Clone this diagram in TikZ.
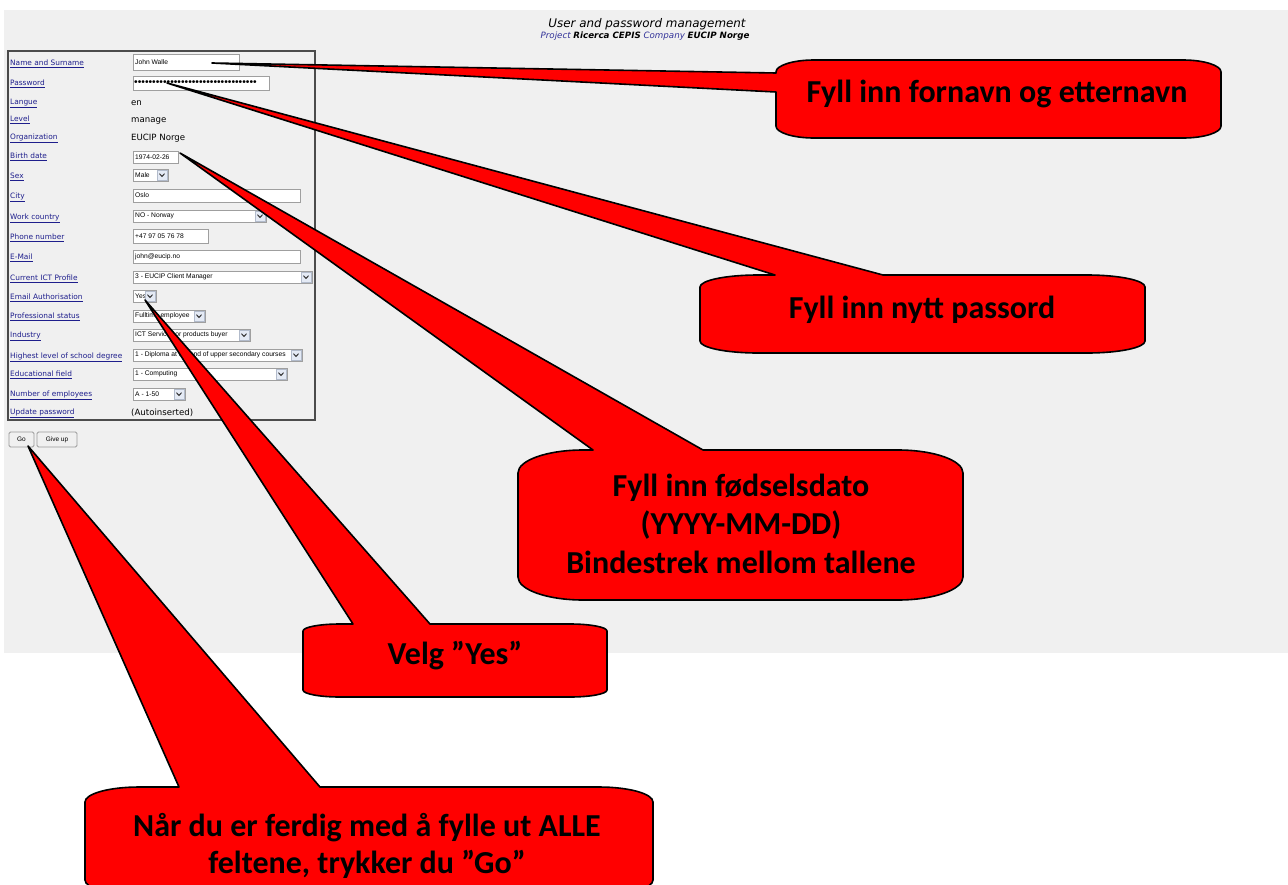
\documentclass[tikz,border=0pt]{standalone}
\usepackage{fontspec}
\setmainfont{DejaVu Sans}
\newfontfamily\vd{DejaVu Sans}
\newfontfamily\ar{Liberation Sans}
\newfontfamily\cb{Carlito}
\definecolor{bg}{RGB}{240,240,240}
\definecolor{linkblue}{RGB}{30,30,140}
\definecolor{hdrblue}{RGB}{51,51,153}
\definecolor{cred}{RGB}{255,0,0}
\definecolor{btnblue}{RGB}{200,212,235}
\tikzset{
  lbl/.style={anchor=base west, inner sep=0, text=linkblue, font=\vd\fontsize{7.4}{8}\selectfont},
  val/.style={anchor=base west, inner sep=0, font=\vd\fontsize{8.6}{10}\selectfont},
  intext/.style={anchor=west, inner sep=0, font=\ar\fontsize{6.7}{7}\selectfont},
  inbox/.style={draw=gray!75, fill=white, line width=0.8pt},
  selbtn/.style={draw=btnblue!70!gray, fill=btnblue!50!white, line width=0.6pt},
  chev/.style={draw=black!80, line width=1pt},
  btn/.style={draw=gray!80, fill=gray!12, rounded corners=1.5pt, line width=0.8pt, inner sep=0,
     minimum height=15pt, font=\ar\fontsize{6.5}{7}\selectfont},
  calloutshape/.style={fill=cred, draw=black, line width=1.6pt, line join=round},
  ctext/.style={anchor=base, inner sep=0, font=\cb\bfseries\fontsize{32}{38}\selectfont},
}
% name x1 y1 x2 y2 text
\newcommand\mkinput[6]{%
  \draw[inbox] (#2,#3) rectangle (#4,#5);
  \node[intext] (#1) at ({#2+2},{(#3+#5)/2}) {#6};}
\newcommand\mkselect[6]{%
  \mkinput{#1}{#2}{#3}{#4}{#5}{#6}
  \draw[selbtn] ({#4-11},{#3+1}) rectangle ({#4-1},{#5-1});
  \draw[chev] ({#4-8.5},{(#3+#5)/2-1.3}) -- ({#4-6},{(#3+#5)/2+1.4}) -- ({#4-3.5},{(#3+#5)/2-1.3});}
% x1 y1 x2 y2 rx ry baseleft baseright tip
\newcommand\callouttop[9]{%
  \filldraw[calloutshape] (#7,#2) -- (#9) -- (#8,#2) -- ({#3-#5},#2)
    .. controls ({#3-0.448*#5},#2) and (#3,{#2+0.448*#6}) .. (#3,{#2+#6})
    -- (#3,{#4-#6})
    .. controls (#3,{#4-0.448*#6}) and ({#3-0.448*#5},#4) .. ({#3-#5},#4)
    -- ({#1+#5},#4)
    .. controls ({#1+0.448*#5},#4) and (#1,{#4-0.448*#6}) .. (#1,{#4-#6})
    -- (#1,{#2+#6})
    .. controls (#1,{#2+0.448*#6}) and ({#1+0.448*#5},#2) .. ({#1+#5},#2)
    -- cycle;}
\begin{document}
\begin{tikzpicture}[x=1pt,y=-1pt]
\useasboundingbox (0,0) rectangle (1288,884);
\clip (0,0) rectangle (1288,884);
\fill[white] (0,0) rectangle (1288,884);
\fill[bg] (4,10) rectangle (1288,653);

% header
\node[anchor=base, inner sep=0, font=\vd\itshape\fontsize{11.9}{13}\selectfont] (title) at (647,27) {User and password management};
\node[anchor=base, inner sep=0, font=\vd\itshape\fontsize{8.7}{10}\selectfont] (subtitle) at (645,38)
  {\textcolor{hdrblue}{Project} \textbf{Ricerca CEPIS} \textcolor{hdrblue}{Company} \textbf{EUCIP Norge}};

% form frame
\draw[draw=gray!60!black, line width=1.1pt, fill=bg] (8,51) rectangle (315,420);

% labels
\node[lbl] (l1) at (10,65.6) {\underline{Name and Surname}};
\node[lbl] (l2) at (10,85.6) {\underline{Password}};
\node[lbl] (l3) at (10,104.6) {\underline{Langue}};
\node[lbl] (l4) at (10,121.6) {\underline{Level}};
\node[lbl] (l5) at (10,139.6) {\underline{Organization}};
\node[lbl] (l6) at (10,158.6) {\underline{Birth date}};
\node[lbl] (l7) at (10,178.6) {\underline{Sex}};
\node[lbl] (l8) at (10,198.6) {\underline{City}};
\node[lbl] (l9) at (10,219.6) {\underline{Work country}};
\node[lbl] (l10) at (10,239.6) {\underline{Phone number}};
\node[lbl] (l11) at (10,259.6) {\underline{E-Mail}};
\node[lbl] (l12) at (10,280.6) {\underline{Current ICT Profile}};
\node[lbl] (l13) at (10,299.6) {\underline{Email Authorisation}};
\node[lbl] (l14) at (10,318.6) {\underline{Professional status}};
\node[lbl] (l15) at (10,337.6) {\underline{Industry}};
\node[lbl] (l16) at (10,358.6) {\underline{Highest level of school degree}};
\node[lbl] (l17) at (10,376.6) {\underline{Educational field}};
\node[lbl] (l18) at (10,396.6) {\underline{Number of employees}};
\node[lbl] (l19) at (10,414.6) {\underline{Update password}};

% values
\mkinput{fname}{133}{54}{239}{70}{John Walle}
\draw[inbox] (133,76) rectangle (269,90);
\node[anchor=west, inner sep=0, font=\ar\fontsize{10.3}{11}\selectfont] (pw) at (134,83.5) {••••••••••••••••••••••••••••••••••};
\node[val] (lang) at (131,105.5) {en};
\node[val] (level) at (131,122.5) {manage};
\node[val] (org) at (131,140.5) {EUCIP Norge};
\mkinput{bdate}{133}{151}{178}{163}{1974-02-26}
\mkselect{sex}{133}{169}{168}{181}{Male}
\mkinput{city}{133}{189}{300}{202}{Oslo}
\mkselect{country}{133}{210}{266}{222}{NO - Norway}
\mkinput{phone}{133}{229}{208}{243}{+47 97 05 76 78}
\mkinput{email}{133}{250}{300}{263}{john@eucip.no}
\mkselect{ict}{133}{271}{312}{283}{3 - EUCIP Client Manager}
\mkselect{auth}{133}{290}{156}{302}{Yes}
\mkselect{prof}{133}{310}{205}{322}{Fulltime employee}
\mkselect{ind}{133}{329}{250}{341}{ICT Services or products buyer}
\mkselect{school}{133}{349}{302}{361}{1 - Diploma at the end of upper secondary courses}
\mkselect{edu}{133}{368}{287}{380}{1 - Computing}
\mkselect{emp}{133}{388}{185}{400}{A - 1-50}
\node[val] (upd) at (131,415) {(Autoinserted)};

% buttons
\node[btn, minimum width=25pt] (go) at (21.5,439.5) {Go};
\node[btn, minimum width=40pt] (giveup) at (57,439.5) {Give up};

% pointer tips
\coordinate (t1) at (212,63);
\coordinate (t2) at (167,83);
\coordinate (t3) at (180,153);
\coordinate (t4) at (145,300);
\coordinate (t5) at (28,446);

% callout 1 (wedge on the left side)
\filldraw[calloutshape] (776,92) -- (t1) -- (776,73) -- (776,72)
  .. controls (776,65.4) and (793,60) .. (814,60) -- (1183,60)
  .. controls (1204,60) and (1221,65.4) .. (1221,72) -- (1221,126)
  .. controls (1221,132.6) and (1204,138) .. (1183,138) -- (814,138)
  .. controls (793,138) and (776,132.6) .. (776,126) -- cycle;
\node[ctext] (c1) at (997,102) {Fyll inn fornavn og etternavn};

\callouttop{700}{275}{1145}{353}{58}{12}{775}{883}{t2}
\node[ctext] (c2) at (922,318) {Fyll inn nytt passord};

\callouttop{518}{450}{963}{600}{65}{23}{593}{703}{t3}
\node[ctext] (c3a) at (741,496) {Fyll inn fødselsdato};
\node[ctext] (c3b) at (741,534) {(YYYY-MM-DD)};
\node[ctext] (c3c) at (741,573) {Bindestrek mellom tallene};

\callouttop{303}{624}{607}{697}{37}{7}{353}{430}{t4}
\node[ctext] (c4) at (455,664) {Velg ”Yes”};

\callouttop{85}{787}{653}{895}{54}{15}{179}{320}{t5}
\node[ctext] (c5a) at (367,836) {Når du er ferdig med å fylle ut ALLE};
\node[ctext] (c5b) at (367,873) {feltene, trykker du ”Go”};
\end{tikzpicture}
\end{document}
